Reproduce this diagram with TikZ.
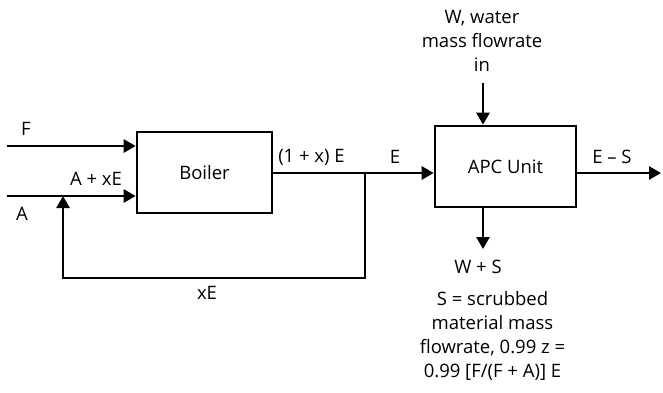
\documentclass[tikz,border=0pt]{standalone}
\usepackage{fontspec}
\setmainfont{Open Sans}
\usetikzlibrary{arrows.meta,positioning,calc}

\begin{document}
\begin{tikzpicture}[x=1pt, y=-1pt, >={Triangle[length=12pt,width=13pt]}, line width=2.6pt,
    every node/.style={font=\fontsize{18.5}{24}\selectfont, inner sep=0pt},
    unitbox/.style={draw, line width=2.6pt, minimum height=81pt}]
        \useasboundingbox (0,0) rectangle (663,392);

        % Units
        \node[unitbox, minimum width=135pt] (boiler) at (204.5,172.5) {Boiler};
        \node[unitbox, minimum width=141pt] (apc) at (505.5,166.5) {APC Unit};

        % Free ends of the streams
        \coordinate (fin) at (7,146);
        \coordinate (ain) at (7,196);
        \coordinate (split) at (365,173);
        \coordinate (ret) at (63,278);
        \coordinate (gasout) at (661,173);
        \coordinate (win) at (483,83);
        \coordinate (wout) at (483,249);

        % Streams
        \draw[->] (fin) -- (fin -| boiler.west);
        \draw[->] (ain) -- (ain -| boiler.west);
        \draw[->] (boiler.east |- split) -- (apc.west |- split);
        \draw[->] (split) |- (ret) -- (ret |- ain);
        \draw[->] (apc.east |- split) -- (gasout);
        \draw[->] (win) -- (win |- apc.north);
        \draw[->] (wout |- apc.south) -- (wout);

        % Stream labels
        \node (lblF) at (26,129) {F};
        \node (lblA) at (22,214) {A};
        \node (lblAxE) at (96,179) {A + xE};
        \node (lblxE) at (207,293) {xE};
        \node (lbl1xE) at (311.5,157) {(1 + x) E};
        \node (lblE) at (395,157) {E};
        \node (lblES) at (612,157) {E -- S};
        \node[align=center] (lblW) at (482,41) {W, water\\mass flowrate\\in};
        \node (lblWS) at (478,267) {W + S};
        \node[align=center] (lblS) at (492.5,336) {S = scrubbed\\material mass\\flowrate, 0.99 z =\\0.99 [F/(F + A)] E};
    \end{tikzpicture}
\end{document}
